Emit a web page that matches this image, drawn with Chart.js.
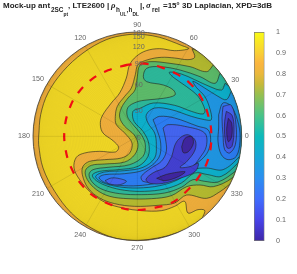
<!DOCTYPE html>
<html>
<head>
<meta charset="utf-8">
<style>
  html, body { margin: 0; background: #fff; }
  canvas { position: absolute; top: 0; }
</style>
<script src="https://cdn.jsdelivr.net/npm/chart.js@4.4.1/dist/chart.umd.min.js"></script>
</head>
<body>
<canvas id="polar" width="297" height="274" style="left:0"></canvas>
<canvas id="cbar" width="49" height="274" style="left:248px"></canvas>
<script>
  // contour outlines (x, y in plot units, y down)
  const above90 = [[32,325],[38,260],[60,195],[105,130],[165,75],[235,35],[300,20],[350,20],[395,28],[430,40],[460,52],[482,62],[440,68],[395,62],[355,68],[325,85],[305,110],[295,150],[275,195],[250,225],[222,265],[217,290],[225,315],[255,338],[272,358],[262,372],[215,370],[170,375],[145,388],[138,420],[155,455],[190,495],[235,525],[285,540],[340,548],[400,548],[440,535],[470,520],[480,555],[510,545],[530,547],[525,565],[510,590],[460,610],[400,628],[328,637],[260,630],[190,600],[130,555],[80,490],[45,420],[32,350]];
  const below80 = [[492,62],[500,88],[480,95],[440,90],[400,88],[360,95],[330,110],[322,140],[310,180],[290,205],[268,235],[262,265],[265,290],[290,315],[312,345],[305,375],[280,390],[230,395],[185,400],[165,415],[163,440],[180,480],[215,510],[260,527],[320,535],[390,532],[440,525],[476,501],[536,511],[576,491],[596,476],[650,430],[680,325],[650,200],[560,90]];
  const below70 = [[556,111],[536,131],[486,116],[426,106],[366,101],[336,111],[328,146],[321,186],[300,210],[280,240],[275,268],[290,295],[318,320],[330,350],[320,380],[290,402],[230,408],[190,412],[172,428],[178,455],[205,485],[245,505],[300,512],[370,512],[430,503],[476,476],[516,471],[556,476],[611,451],[660,400],[690,325],[660,200],[600,130]];
  const below60 = [[576,136],[561,166],[516,146],[456,126],[396,116],[356,121],[346,146],[356,161],[406,171],[436,186],[441,201],[406,211],[356,216],[326,222],[300,238],[298,265],[315,290],[340,320],[352,350],[345,385],[305,410],[240,418],[195,425],[183,440],[195,465],[225,485],[275,497],[340,500],[410,495],[460,478],[495,455],[530,460],[570,462],[622,430],[680,380],[690,250],[640,170]];
  const below50 = [[591,166],[581,186],[546,176],[500,155],[460,138],[424,133],[436,148],[476,176],[511,206],[531,246],[525,258],[490,250],[440,232],[376,225],[336,241],[315,250],[318,280],[345,310],[362,345],[360,385],[330,415],[270,425],[215,430],[193,441],[205,458],[240,475],[290,487],[350,490],[410,483],[460,465],[500,435],[540,440],[580,445],[630,405],[690,340],[670,220]];
  const below40 = [[610,190],[595,215],[570,205],[530,180],[495,160],[505,178],[530,205],[545,240],[550,275],[530,275],[490,265],[430,245],[380,240],[355,260],[360,285],[380,315],[385,350],[380,390],[345,418],[290,428],[230,432],[203,445],[220,462],[270,476],[330,480],[395,473],[450,455],[495,425],[535,420],[585,425],[635,385],[690,320],[670,230]];
  const below30 = [[375,275],[395,265],[440,270],[510,295],[540,305],[548,335],[540,370],[520,395],[490,415],[440,445],[385,465],[330,473],[275,472],[232,464],[213,449],[230,440],[290,437],[350,425],[392,390],[398,345],[385,300]];
  const below30b = [[572,260],[585,225],[610,235],[632,290],[636,340],[625,385],[600,395],[580,380],[570,340],[572,300]];
  const below20 = [[405,300],[420,290],[470,295],[530,315],[535,355],[515,390],[490,420],[440,450],[385,462],[345,460],[340,445],[370,420],[400,400],[415,370],[412,330]];
  const below20b = [[231,458],[250,450],[275,452],[295,460],[275,470],[245,468]];
  const below20c = [[585,235],[610,232],[624,290],[622,350],[605,375],[590,365],[585,320],[582,270]];
  const below10 = [[431,386],[446,341],[476,320],[501,336],[501,366],[476,401],[456,418],[486,416],[511,406],[501,431],[456,451],[406,466],[366,466],[354,454],[376,434],[411,418]];
  const below10b = [[595,250],[612,262],[618,300],[612,355],[598,360],[590,320],[590,280]];
  const below05 = [[461,356],[471,331],[491,326],[496,346],[481,371],[466,374]];
  const below05b = [[386,451],[416,439],[471,431],[451,446],[411,458]];
  const below05c = [[601,271],[611,286],[611,326],[601,341],[596,306]];
  const redRing = [[300,110],[240,127],[190,155],[150,195],[125,240],[110,300],[112,360],[130,420],[165,475],[210,512],[270,537],[320,546],[375,540],[430,525],[470,495],[510,450],[540,395],[550,320],[540,260],[520,210],[490,170],[450,140],[400,118],[350,107]];

  const azimuthTicks = [0, 30, 60, 90, 120, 150, 180, 210, 240, 270, 300, 330];
  const elevationTicks = [0, 30, 60, 90, 120, 150, 180];
  const cbarTicks = [0, 0.1, 0.2, 0.3, 0.4, 0.5, 0.6, 0.7, 0.8, 0.9, 1];

  const CX = 328, CY = 325, R = 313;
  const TICK_GREY = '#666';
  const LINE = 'rgba(35,35,30,0.75)';

  function band(points, color) {
    return {
      data: points.concat([points[0]]).map(p => ({ x: p[0], y: p[1] })),
      backgroundColor: color,
      borderColor: LINE,
      borderWidth: 0.8,
      fill: 'shape',
      tension: 0.35,
      pointRadius: 0,
    };
  }

  // back to front
  const layers = [
    band(above90, '#efd625'),
    band(below80, '#b4ba30'),
    band(below70, '#5dbb6a'),
    band(below60, '#2db89a'),
    band(below50, '#0eb0cb'),
    band(below40, '#2096e2'),
    band(below30, '#2c7df2'),
    band(below30b, '#2c7df2'),
    band(below20, '#4465f0'),
    band(below20b, '#4465f0'),
    band(below20c, '#4465f0'),
    band(below10, '#4340d0'),
    band(below10b, '#4340d0'),
    band(below05, '#40269f'),
    band(below05b, '#40269f'),
    band(below05c, '#40269f'),
  ];
  // first dataset draws last
  const datasets = layers.slice().reverse();
  datasets.unshift({
    data: redRing.concat([redRing[0]]).map(p => ({ x: p[0], y: p[1] })),
    borderColor: '#f40f14',
    borderWidth: 2.2,
    borderDash: [8, 9],
    fill: false,
    tension: 0.4,
    pointRadius: 0,
  });

  const TITLE_BOLD = 'bold 8px "Liberation Sans"';
  const TITLE_SUB = 'bold 6.4px "Liberation Sans"';
  const TITLE_SUB2 = 'bold 4.8px "Liberation Sans"';
  const TITLE_GREEK = 'italic bold 8.6px "Liberation Serif"';
  const titleParts = [
    ['Mock-up ant', 3, 8, TITLE_BOLD],
    ['2SC', 51, 12, TITLE_SUB],
    ['pt', 63.5, 16, TITLE_SUB2],
    [', LTE2600 |', 68, 8, TITLE_BOLD],
    ['\u03c1', 111, 8, TITLE_GREEK],
    ['h', 116, 12, TITLE_SUB],
    ['UL', 120, 16, TITLE_SUB2],
    [',', 126.5, 12, TITLE_SUB],
    ['h', 128.5, 12, TITLE_SUB],
    ['DL', 132.5, 16, TITLE_SUB2],
    ['|,', 140, 8, TITLE_BOLD],
    ['\u03c3', 146, 8, TITLE_GREEK],
    ['rel', 152, 12, TITLE_SUB],
    ['=15', 163, 8, TITLE_BOLD],
    ['o', 176.5, 5, TITLE_SUB2],
    ['3D Laplacian, XPD=3dB', 182, 8, TITLE_BOLD],
  ];

  const polarFrame = {
    id: 'polarFrame',
    beforeDatasetsDraw(chart) {
      const { ctx, scales: { x, y } } = chart;
      const cx = x.getPixelForValue(CX), cy = y.getPixelForValue(CY);
      const r = x.getPixelForValue(CX + R) - cx;
      ctx.save();
      ctx.beginPath();
      ctx.arc(cx, cy, r, 0, Math.PI * 2);
      ctx.fillStyle = '#eeae3c';
      ctx.fill();
      ctx.clip();
    },
    afterDatasetsDraw(chart) {
      const { ctx, scales: { x, y } } = chart;
      const cx = x.getPixelForValue(CX), cy = y.getPixelForValue(CY);
      const r = x.getPixelForValue(CX + R) - cx;
      // fine elevation rings
      ctx.lineWidth = 0.5;
      ctx.strokeStyle = 'rgba(0,0,0,0.05)';
      for (let e = 2; e < 180; e += 2) {
        ctx.beginPath();
        ctx.arc(cx, cy, r * Math.sin(e * Math.PI / 360), 0, Math.PI * 2);
        ctx.stroke();
      }
      ctx.strokeStyle = 'rgba(0,0,0,0.13)';
      ctx.lineWidth = 0.7;
      azimuthTicks.forEach(a => {
        const t = a * Math.PI / 180;
        ctx.beginPath();
        ctx.moveTo(cx, cy);
        ctx.lineTo(cx + r * Math.cos(t), cy - r * Math.sin(t));
        ctx.stroke();
      });
      ctx.restore();

      ctx.save();
      ctx.beginPath();
      ctx.arc(cx, cy, r, 0, Math.PI * 2);
      ctx.strokeStyle = 'rgba(70,65,55,0.85)';
      ctx.lineWidth = 1;
      ctx.stroke();

      ctx.font = '7.2px "Liberation Sans"';
      ctx.fillStyle = TICK_GREY;
      ctx.textAlign = 'center';
      ctx.textBaseline = 'middle';
      azimuthTicks.forEach(a => {
        const t = a * Math.PI / 180;
        const label = String(a);
        const w = ctx.measureText(label).width;
        const off = r + 3 + Math.abs(Math.cos(t)) * w / 2 + Math.abs(Math.sin(t)) * 4.3;
        ctx.fillText(label, cx + off * Math.cos(t), cy - off * Math.sin(t));
      });
      elevationTicks.forEach(e => {
        const rr = r * Math.sin(e * Math.PI / 360);
        ctx.fillText(String(e), cx + 1.3, cy - rr + 1.2);
      });

      ctx.textAlign = 'left';
      ctx.textBaseline = 'alphabetic';
      ctx.fillStyle = '#222';
      titleParts.forEach(p => {
        ctx.font = p[3];
        ctx.fillText(p[0], p[1], p[2]);
      });
      ctx.restore();
    },
  };

  new Chart(document.getElementById('polar'), {
    type: 'line',
    data: { datasets },
    plugins: [polarFrame],
    options: {
      responsive: false,
      animation: false,
      events: [],
      layout: { padding: { left: 28, top: 28, right: 49, bottom: 28 } },
      elements: { line: { capBezierPoints: false } },
      plugins: { legend: { display: false }, tooltip: { enabled: false } },
      scales: {
        x: { type: 'linear', display: false, min: 0, max: 660 },
        y: { type: 'linear', display: false, min: 0, max: 654, reverse: true },
      },
    },
  });

  const cbarStops = [
    [0, '#3e26a8'], [0.1, '#4743e8'], [0.2, '#3f6cfd'], [0.3, '#2b8ef0'], [0.4, '#17a6d9'],
    [0.5, '#0cb9bb'], [0.6, '#48c388'], [0.7, '#96bf50'], [0.75, '#c6b93a'], [0.8, '#eab83c'],
    [0.85, '#fbb53f'], [0.9, '#f9cf35'], [1, '#f9fb15'],
  ];

  new Chart(document.getElementById('cbar'), {
    type: 'bar',
    data: {
      labels: [''],
      datasets: [{
        data: [[0, 1]],
        barPercentage: 1,
        categoryPercentage: 1,
        borderColor: '#777',
        borderWidth: 1,
        borderSkipped: false,
        backgroundColor(c) {
          const area = c.chart.chartArea;
          if (!area) return cbarStops[0][1];
          const g = c.chart.ctx.createLinearGradient(0, area.bottom, 0, area.top);
          cbarStops.forEach(s => g.addColorStop(s[0], s[1]));
          return g;
        },
      }],
    },
    options: {
      responsive: false,
      animation: false,
      events: [],
      layout: { padding: { left: 6, top: 32, right: 0, bottom: 33 } },
      plugins: { legend: { display: false }, tooltip: { enabled: false } },
      scales: {
        x: { display: false },
        y: {
          position: 'right',
          min: 0,
          max: 1,
          afterBuildTicks(axis) { axis.ticks = cbarTicks.map(v => ({ value: v })); },
          afterFit(axis) { axis.width = 32.5; },
          border: { display: false },
          grid: { display: false },
          ticks: {
            padding: 3.5,
            autoSkip: false,
            maxRotation: 0,
            color: TICK_GREY,
            font: { size: 7.2, family: '"Liberation Sans"' },
            callback: v => String(v),
          },
        },
      },
    },
  });
</script>
</body>
</html>
